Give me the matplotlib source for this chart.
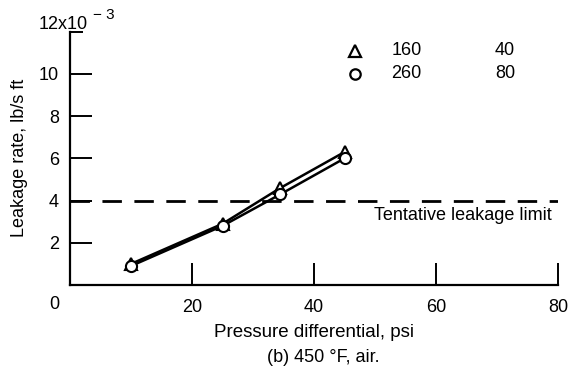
import matplotlib
matplotlib.use("Agg")
import matplotlib.pyplot as plt

plt.rcParams['font.family'] = ['Liberation Sans', 'DejaVu Sans']

# Data
pressure = [10, 25, 34.5, 45]
leak_160 = [1.0, 2.9, 4.6, 6.3]   # triangles
leak_260 = [0.9, 2.8, 4.3, 6.0]   # circles
limit = 4.0
x_ticks = [20, 40, 60, 80]
x_ticklabels = ["20", "40", "60", "80"]
y_ticks = [2, 4, 6, 8, 10]
y_ticklabels = ["2", "4", "6", "8", "10"]
legend_rows = [("^", "160", "40"), ("o", "260", "80")]

FS = 13

fig = plt.figure(figsize=(5.78, 3.75), dpi=100)
ax = fig.add_axes([70/578, 1-285/375, (558-70)/578, (285-31.7)/375])

ax.set_xlim(0, 80)
ax.set_ylim(0, 12)

for s in ['top', 'right']:
    ax.spines[s].set_visible(False)
for s in ['left', 'bottom']:
    ax.spines[s].set_linewidth(1.6)

ax.set_xticks(x_ticks)
ax.set_xticklabels(x_ticklabels)
ax.set_yticks(y_ticks)
ax.set_yticklabels(y_ticklabels)
ax.set_yticks([12], minor=True)
ax.tick_params(axis='both', which='major', direction='in', length=16, width=1.4,
               labelsize=FS, pad=8)
ax.tick_params(axis='y', which='minor', direction='in', length=9.5, width=1.4)
ax.tick_params(axis='x', which='major', pad=10)

# "0" label at origin
ax.annotate("0", xy=(0, 0), xycoords='data', xytext=(-11, -14), textcoords='offset points',
            ha='center', va='center', fontsize=FS)

# 12x10^-3 label
ax.annotate("12x10", xy=(0, 12), xycoords='data', xytext=(13, 5.5), textcoords='offset points',
            ha='right', va='center', fontsize=FS)
ax.annotate("\u2212 3", xy=(0, 12), xycoords='data', xytext=(16.5, 12), textcoords='offset points',
            ha='left', va='center', fontsize=11)

# Limit line
ax.axhline(limit, color='black', lw=2.0, dashes=(7, 4.5))
ax.text(79, limit - 0.7, "Tentative leakage limit", ha='right', va='center', fontsize=FS)

# Data lines
ax.plot(pressure, leak_160, color='black', lw=1.8, marker='^', ms=9,
        mfc='white', mec='black', mew=1.5, zorder=3)
ax.plot(pressure, leak_260, color='black', lw=1.8, marker='o', ms=8,
        mfc='white', mec='black', mew=1.5, zorder=3)

# Legend-like table
for i, (m, a, b) in enumerate(legend_rows):
    yv = 11.1 - i * 1.1
    ax.plot([46.8], [yv], marker=m, ms=8.5 if m == '^' else 7.5, mfc='white', mec='black',
            mew=1.6, ls='none', clip_on=False)
    ax.text(55.2, yv, a, ha='center', va='center', fontsize=FS)
    ax.text(71.3, yv, b, ha='center', va='center', fontsize=FS)

ax.set_xlabel("Pressure differential, psi", fontsize=FS + 0.5, labelpad=6)
ax.set_ylabel("Leakage rate, lb/s ft", fontsize=FS, labelpad=8)

fig.text(323/578, 1-357/375, "(b) 450 \u00b0F, air.", ha='center', va='center', fontsize=FS)

fig.savefig("out.png", dpi=100)
